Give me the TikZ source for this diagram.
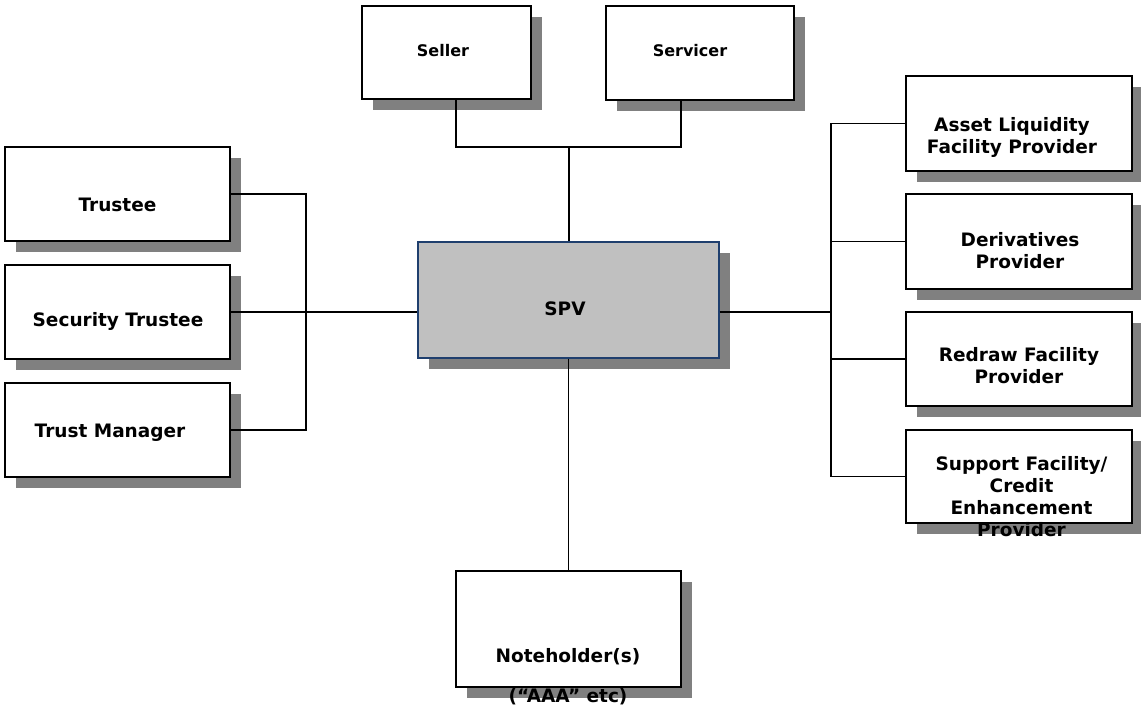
\documentclass[tikz,border=0pt]{standalone}
\usepackage{fontspec}
\setmainfont{DejaVu Sans}
\usetikzlibrary{shadows,calc}
\definecolor{shadowgray}{RGB}{128,128,128}
\definecolor{spvgray}{RGB}{192,192,192}
\definecolor{spvblue}{RGB}{31,63,110}
\tikzset{
  box/.style={draw=black, line width=1.3pt, fill=white, inner sep=0pt,
    drop shadow={shadow xshift=11pt, shadow yshift=-11pt, fill=shadowgray, opacity=1}},
  lbl/.style={font=\fontsize{18.5}{22}\selectfont\bfseries, align=center, inner sep=0pt},
  slbl/.style={font=\fontsize{16}{20}\selectfont\bfseries, align=center, inner sep=0pt},
  conn/.style={draw=black, line width=1.1pt},
}
\begin{document}
\begin{tikzpicture}[x=1pt,y=-1pt]
\useasboundingbox (0,0) rectangle (1141,707);
% boxes
\node[box, minimum width=169pt, minimum height=93pt] (seller) at (446.5,52.5) {};
\node[box, minimum width=188pt, minimum height=94pt] (servicer) at (700,53) {};
\node[box, minimum width=225pt, minimum height=94pt] (trustee) at (117.5,194) {};
\node[box, minimum width=225pt, minimum height=94pt] (sectrustee) at (117.5,312) {};
\node[box, minimum width=225pt, minimum height=94pt] (trustmgr) at (117.5,430) {};
\node[box, draw=spvblue, fill=spvgray, minimum width=301pt, minimum height=116pt] (spv) at (568.5,300) {};
\node[box, minimum width=226pt, minimum height=95pt] (asset) at (1019,123.5) {};
\node[box, minimum width=226pt, minimum height=95pt] (deriv) at (1019,241.5) {};
\node[box, minimum width=226pt, minimum height=94pt] (redraw) at (1019,359) {};
\node[box, minimum width=226pt, minimum height=93pt] (support) at (1019,476.5) {};
\node[box, minimum width=225pt, minimum height=116pt] (notes) at (568.5,629) {};
% labels
\node[slbl] (tseller) at (443,51) {Seller};
\node[slbl] (tservicer) at (690,51) {Servicer};
\node[lbl] (ttrustee) at (117.5,205) {Trustee};
\node[lbl] (tsectrustee) at (118,321) {Security Trustee};
\node[lbl] (ttrustmgr) at (110,433) {Trust Manager};
\node[lbl] (tspv) at (565,309) {SPV};
\node[lbl] (tasset) at (1012,137) {Asset Liquidity\\Facility Provider};
\node[lbl] (tderiv) at (1020,251) {Derivatives\\Provider};
\node[lbl] (tredraw) at (1019,366) {Redraw Facility\\Provider};
\node[lbl] (tsupport) at (1021.5,497) {Support Facility/\\Credit\\Enhancement\\Provider};
\node[lbl, font=\fontsize{18.5}{40}\selectfont\bfseries] (tnotes) at (568,677) {Noteholder(s)\\(“AAA” etc)};
% junctions
\coordinate (jt) at (569,147);
\coordinate (jl) at (306,312);
\coordinate (jr) at (831,312);
% connectors
\draw[conn] ($(seller.south)+(9.5,0)$) |- (jt) -| ($(servicer.south)+(-19,0)$);
\draw[conn] (jt) -- (jt |- spv.north);
\draw[conn] (trustee.east) -| (jl) |- (trustmgr.east);
\draw[conn] (sectrustee.east) -- (sectrustee.east -| spv.west);
\draw[conn] (spv.east |- jr) -- (jr);
\draw[conn] (asset.west) -| (jr) |- (support.west);
\draw[conn] (deriv.west) -- (deriv.west -| jr);
\draw[conn] (redraw.west) -- (redraw.west -| jr);
\draw[conn] (spv.south) -- (notes.north);
\end{tikzpicture}
\end{document}
